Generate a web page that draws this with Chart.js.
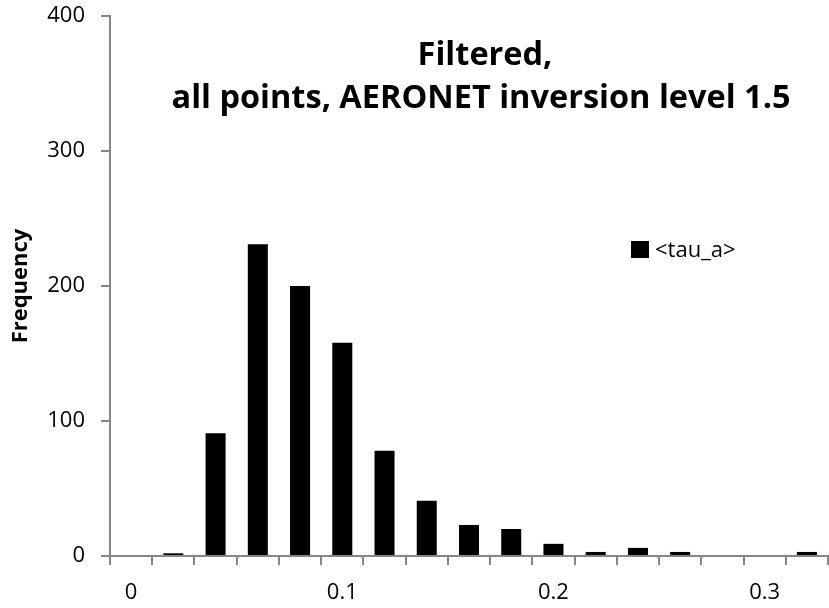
<!DOCTYPE html>
<html>
<head>
<meta charset="utf-8">
<script src="https://cdn.jsdelivr.net/npm/chart.js@4.4.0/dist/chart.umd.min.js"></script>
<style>
    html, body { margin: 0; padding: 0; background: #fff; }
    #wrap { width: 829px; height: 608px; }
</style>
</head>
<body>
<div id="wrap"><canvas id="grafico" width="829" height="608"></canvas></div>
<script>
// bins of <tau_a> (category axis, one bar per bin)
const bins = ['0', '0.02', '0.04', '0.06', '0.08', '0.1', '0.12', '0.14', '0.16',
              '0.18', '0.2', '0.22', '0.24', '0.26', '0.28', '0.3', '0.32'];
const frequency = [0, 2, 91, 231, 200, 158, 78, 41, 23, 20, 9, 3, 6, 3, 0, 0, 3];
const shownXLabels = ['0', '0.1', '0.2', '0.3'];
const yTicks = [0, 100, 200, 300, 400];
const titleLines = ['Filtered,', 'all points, AERONET inversion level 1.5'];
const seriesName = '<tau_a>';

const FONT = '"Open Sans", Lato, sans-serif';
const AXIS = '#868686';

// title + legend drawn inside the plot area, like the original
const overlay = {
    id: 'overlay',
    afterDraw(chart) {
        const ctx = chart.ctx;
        ctx.save();
        ctx.fillStyle = '#000';
        ctx.textAlign = 'center';
        ctx.textBaseline = 'alphabetic';
        ctx.font = 'bold 32.5px ' + FONT;
        ctx.fillText(titleLines[0], 485, 65);
        ctx.fillText(titleLines[1], 481, 108);

        // legend
        const ds = chart.data.datasets[0];
        ctx.fillStyle = ds.backgroundColor;
        ctx.fillRect(631, 241, 18, 17);
        ctx.fillStyle = '#000';
        ctx.textAlign = 'left';
        ctx.textBaseline = 'middle';
        ctx.font = '22px ' + FONT;
        ctx.fillText(ds.label, 655, 251);
        ctx.restore();
    }
};

new Chart(document.getElementById('grafico'), {
    type: 'bar',
    data: {
        labels: bins,
        datasets: [{
            label: seriesName,
            data: frequency,
            backgroundColor: '#000',
            borderWidth: 0,
            barPercentage: 0.474,
            categoryPercentage: 1.0
        }]
    },
    options: {
        responsive: false,
        animation: false,
        layout: { padding: { left: 0, top: 16, right: 1, bottom: 0 } },
        plugins: {
            legend: { display: false },
            tooltip: { enabled: false }
        },
        scales: {
            x: {
                offset: true,
                grid: { offset: true, drawOnChartArea: false, color: AXIS, lineWidth: 2, tickLength: 9 },
                border: { color: AXIS, width: 2 },
                ticks: {
                    autoSkip: false,
                    maxRotation: 0,
                    padding: 15,
                    color: '#000',
                    font: { family: FONT, size: 22 },
                    callback: function (val) {
                        const l = this.getLabelForValue(val);
                        return shownXLabels.includes(l) ? l : '';
                    }
                },
                afterFit: s => { s.height = 52; s.paddingLeft = 0; s.paddingRight = 0; }
            },
            y: {
                min: yTicks[0],
                max: yTicks[yTicks.length - 1],
                afterBuildTicks: s => { s.ticks = yTicks.map(v => ({ value: v })); },
                grid: { drawOnChartArea: false, color: AXIS, lineWidth: 2, tickLength: 9 },
                border: { color: AXIS, width: 2 },
                ticks: {
                    padding: 16,
                    color: '#000',
                    font: { family: FONT, size: 22 }
                },
                title: {
                    display: true,
                    text: 'Frequency',
                    color: '#000',
                    font: { family: FONT, size: 22, weight: 'bold' },
                    padding: { top: 8, bottom: 0 }
                },
                afterFit: s => { s.width = 110; s.paddingTop = 0; s.paddingBottom = 0; }
            }
        }
    },
    plugins: [overlay]
});
</script>
</body>
</html>
